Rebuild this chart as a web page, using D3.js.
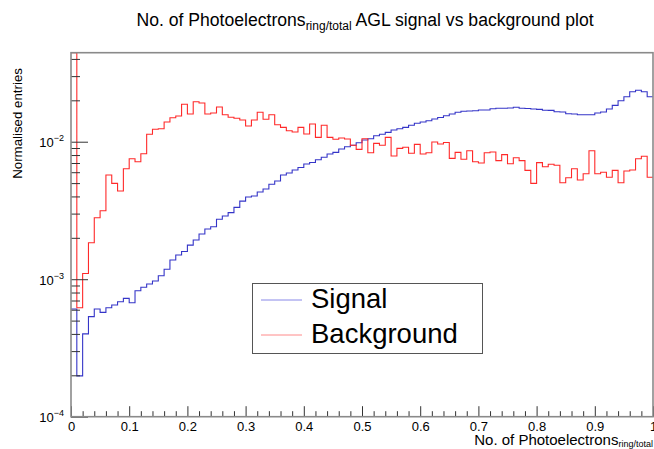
<!DOCTYPE html>
<html>
<head>
<meta charset="utf-8">
<script src="https://cdn.jsdelivr.net/npm/d3@7/dist/d3.min.js"></script>
<style>
  html, body { margin: 0; padding: 0; background: #fff; }
  svg { display: block; font-family: "Liberation Sans", Arial, Helvetica, sans-serif; }
</style>
</head>
<body>
<svg id="chart" width="654" height="449"></svg>
<script>
// Normalised histograms, 100 bins on [0, 1]
const binLow = 0, binHigh = 1, nBins = 100;

const signal = [
  0.000607, 0.000198, 0.000400, 0.000534, 0.000607, 0.000574, 0.000620, 0.000649, 0.000686, 0.000726,
  0.000675, 0.000825, 0.000873, 0.000923, 0.000970, 0.00106, 0.00118, 0.00138, 0.00150, 0.00159,
  0.00177, 0.00193, 0.00213, 0.00232, 0.00241, 0.00273, 0.00288, 0.00305, 0.00333, 0.00370,
  0.00396, 0.00403, 0.00431, 0.00453, 0.00490, 0.00518, 0.00573, 0.00592, 0.00623, 0.00649,
  0.00688, 0.00706, 0.00740, 0.00770, 0.00814, 0.00837, 0.00885, 0.00920, 0.00942, 0.00983,
  0.01029, 0.01051, 0.01106, 0.01132, 0.01170, 0.01216, 0.01243, 0.01272, 0.01316, 0.01361,
  0.01391, 0.01421, 0.01463, 0.01500, 0.01546, 0.01591, 0.01636, 0.01664, 0.01672, 0.01681,
  0.01700, 0.01700, 0.01738, 0.01750, 0.01750, 0.01758, 0.01779, 0.01750, 0.01745, 0.01729,
  0.01720, 0.01692, 0.01690, 0.01653, 0.01644, 0.01598, 0.01591, 0.01572, 0.01572, 0.01570,
  0.01617, 0.01644, 0.01729, 0.01839, 0.01987, 0.02125, 0.02310, 0.02365, 0.02310, 0.02125
];

const background = [
  0.0900, 0.000620, 0.00110, 0.00184, 0.00280, 0.00315, 0.00573, 0.00498, 0.00438, 0.00636,
  0.00752, 0.00715, 0.00818, 0.01132, 0.01231, 0.01243, 0.01391, 0.01495, 0.01538, 0.01871,
  0.01591, 0.01954, 0.01912, 0.01591, 0.01617, 0.01788, 0.01572, 0.01505, 0.01480, 0.01438,
  0.01301, 0.01438, 0.01636, 0.01455, 0.01572, 0.01329, 0.01272, 0.01202, 0.01176, 0.01272,
  0.01138, 0.01345, 0.01076, 0.01316, 0.01076, 0.01041, 0.01064, 0.01046, 0.00942, 0.00880,
  0.01051, 0.00832, 0.00973, 0.00942, 0.01076, 0.00787, 0.00895, 0.00911, 0.00824, 0.00957,
  0.00814, 0.00832, 0.00995, 0.00962, 0.00987, 0.00757, 0.00837, 0.00745, 0.00860, 0.00715,
  0.00700, 0.00832, 0.00842, 0.00728, 0.00805, 0.00692, 0.00765, 0.00728, 0.00619, 0.00498,
  0.00704, 0.00658, 0.00685, 0.00674, 0.00503, 0.00547, 0.00636, 0.00527, 0.00585, 0.00860,
  0.00585, 0.00599, 0.00551, 0.00619, 0.00503, 0.00612, 0.00623, 0.00752, 0.00783, 0.00551
];

const xTicks = [0, 0.1, 0.2, 0.3, 0.4, 0.5, 0.6, 0.7, 0.8, 0.9, 1];
const xTickLabels = ["0", "0.1", "0.2", "0.3", "0.4", "0.5", "0.6", "0.7", "0.8", "0.9", "1"];
const yDecades = [1e-4, 1e-3, 1e-2];
const yDecadeExponents = ["\u22124", "\u22123", "\u22122"];
const seriesNames = ["Signal", "Background"];
const seriesColors = ["#3535c8", "#ff2a2a"];
const legendColors = ["#8888e8", "#ff8a8a"];

const yMin = 1e-4, yMax = 0.0444;

// Frame geometry
const frame = { left: 71, right: 653, top: 52.7, bottom: 416.7 };

const svg = d3.select("#chart");

const x = d3.scaleLinear().domain([binLow, binHigh]).range([frame.left, frame.right]);
const y = d3.scaleLog().domain([yMin, yMax]).range([frame.bottom, frame.top]).clamp(true);

// Title
const title = svg.append("text")
  .attr("x", 365).attr("y", 26)
  .attr("text-anchor", "middle")
  .attr("font-size", 17.6)
  .attr("fill", "#000");
title.append("tspan").text("No. of Photoelectrons");
title.append("tspan").attr("font-size", 12).attr("dy", 4).text("ring/total");
title.append("tspan").attr("dy", -4).text(" AGL signal vs background plot");

// Histogram outlines (ROOT-style steps)
const edges = d3.range(nBins + 1).map(i => binLow + (binHigh - binLow) * i / nBins);
const step = d3.line()
  .x(d => x(d[0]))
  .y(d => y(d[1]))
  .curve(d3.curveStepAfter);

[signal, background].forEach((vals, k) => {
  const pts = vals.map((v, i) => [edges[i], v]);
  pts.push([edges[nBins], vals[nBins - 1]]);
  svg.append("path")
    .attr("d", step(pts))
    .attr("fill", "none")
    .attr("stroke", seriesColors[k])
    .attr("stroke-width", 1.1);
});

// X axis: major and minor ticks pointing into the frame
const xAxisG = svg.append("g").attr("transform", `translate(0,${frame.bottom})`);
xAxisG.call(
  d3.axisBottom(x)
    .tickValues(xTicks)
    .tickSizeInner(-10.5)
    .tickSizeOuter(0)
    .tickPadding(5.5)
    .tickFormat((d, i) => xTickLabels[i])
);
const xMinor = d3.range(0, 51).map(i => i * 0.02).filter(v => Math.abs(v * 10 - Math.round(v * 10)) > 1e-6);
xAxisG.append("g").call(
  d3.axisBottom(x).tickValues(xMinor).tickSizeInner(-5.5).tickSizeOuter(0).tickFormat("")
);
xAxisG.selectAll(".domain").remove();
xAxisG.selectAll("line").attr("stroke", "#333");
xAxisG.selectAll("text").attr("font-size", 13).attr("fill", "#000")
  .attr("font-family", "'Liberation Sans', Arial, sans-serif");

// Y axis: decades and minor ticks
const yAxisG = svg.append("g").attr("transform", `translate(${frame.left},0)`);
yAxisG.call(
  d3.axisLeft(y).tickValues(yDecades).tickSizeInner(-17).tickSizeOuter(0).tickFormat("")
);
const yMinor = [];
yDecades.forEach(d => { for (let m = 2; m <= 9; m++) { const v = d * m; if (v <= yMax) yMinor.push(v); } });
yAxisG.append("g").call(
  d3.axisLeft(y).tickValues(yMinor).tickSizeInner(-9).tickSizeOuter(0).tickFormat("")
);
yAxisG.selectAll(".domain").remove();
yAxisG.selectAll("line").attr("stroke", "#333");

// Y decade labels 10^n
yDecades.forEach((d, i) => {
  const t = svg.append("text")
    .attr("x", 64).attr("y", y(d) + 5.5)
    .attr("text-anchor", "end")
    .attr("font-size", 13)
    .attr("fill", "#000");
  t.append("tspan").text("10");
  t.append("tspan").attr("font-size", 9).attr("dy", -6).text(yDecadeExponents[i]);
});

// Frame
svg.append("rect")
  .attr("x", frame.left).attr("y", frame.top)
  .attr("width", frame.right - frame.left).attr("height", frame.bottom - frame.top)
  .attr("fill", "none").attr("stroke", "#8a8a8a").attr("stroke-width", 1.6);

// Axis titles
svg.append("text")
  .attr("transform", "translate(22,68) rotate(-90)")
  .attr("text-anchor", "end")
  .attr("font-size", 13.3)
  .attr("fill", "#000")
  .text("Normalised entries");

const xTitle = svg.append("text")
  .attr("x", 653).attr("y", 444.5)
  .attr("text-anchor", "end")
  .attr("font-size", 15)
  .attr("fill", "#000");
xTitle.append("tspan").text("No. of Photoelectrons");
xTitle.append("tspan").attr("font-size", 9).attr("dy", 2).text("ring/total");

// Legend
const legend = svg.append("g");
legend.append("rect")
  .attr("x", 252.5).attr("y", 283.5).attr("width", 230).attr("height", 70)
  .attr("fill", "#fff").attr("stroke", "#555").attr("stroke-width", 1);
seriesNames.forEach((name, i) => {
  const cy = 300 + i * 35;
  legend.append("line")
    .attr("x1", 261).attr("x2", 302).attr("y1", cy).attr("y2", cy)
    .attr("stroke", legendColors[i]).attr("stroke-width", 1);
  legend.append("text")
    .attr("x", 311).attr("y", cy + 7.5)
    .attr("font-size", 27.5)
    .attr("fill", "#000")
    .text(name);
});
</script>
</body>
</html>
